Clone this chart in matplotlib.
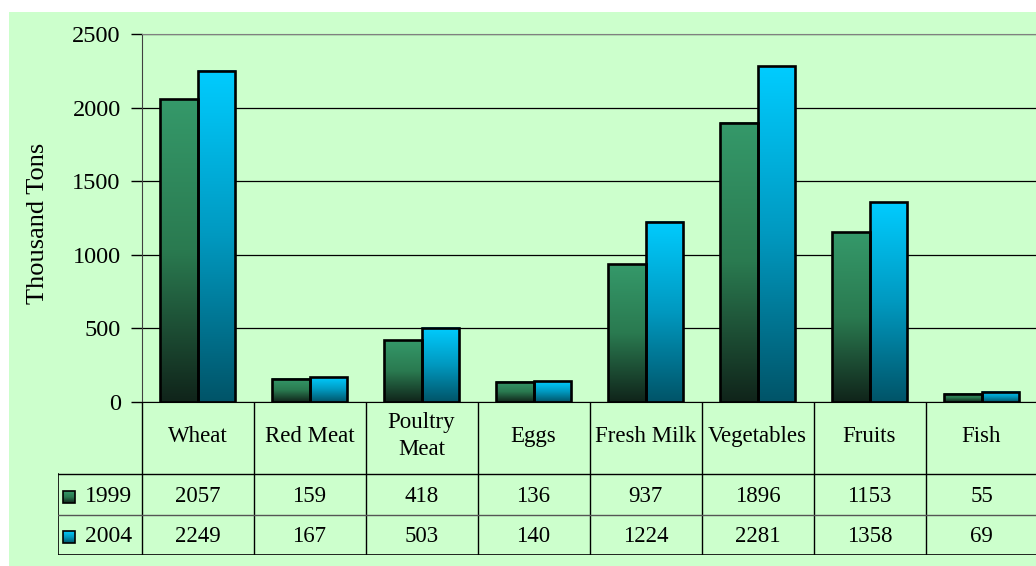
import numpy as np
import matplotlib
matplotlib.use("Agg")
import matplotlib.pyplot as plt
from matplotlib.colors import LinearSegmentedColormap
from matplotlib.patches import Rectangle

plt.rcParams['font.family'] = ['Liberation Serif', 'DejaVu Serif']

# production data (thousand tons)
categories = ['Wheat', 'Red Meat', 'Poultry\nMeat', 'Eggs', 'Fresh Milk',
              'Vegetables', 'Fruits', 'Fish']
years = ['1999', '2004']
vals_1999 = [2057, 159, 418, 136, 937, 1896, 1153, 55]
vals_2004 = [2249, 167, 503, 140, 1224, 2281, 1358, 69]
yticks = [0, 500, 1000, 1500, 2000, 2500]

W, H = 1036, 566
bg = '#ccffcc'
green = LinearSegmentedColormap.from_list('g', ['#10241a', '#2a7a50', '#35996a'])
blue = LinearSegmentedColormap.from_list('b', ['#005468', '#0099c0', '#00ccff'])
grad = np.linspace(0, 1, 256).reshape(-1, 1)

fig = plt.figure(figsize=(W / 100, H / 100), dpi=100)
fig.patch.set_facecolor('white')
fig.patches.append(Rectangle((9 / W, 0), 1, 1 - 12 / H, transform=fig.transFigure,
                             facecolor=bg, edgecolor='none', zorder=-10))

x_left = 141.5
col_w = 112
ax = fig.add_axes([x_left / W, 1 - 402 / H, 8 * col_w / W, 368 / H])
ax.set_facecolor('none')

bw = 0.335
for i in range(len(categories)):
    c = i + 0.5
    for v, x0, cmap in [(vals_1999[i], c - bw, green), (vals_2004[i], c, blue)]:
        ax.imshow(grad, extent=(x0, x0 + bw, 0, v), origin='lower', aspect='auto',
                  cmap=cmap, zorder=2, interpolation='bilinear')
        ax.add_patch(Rectangle((x0, 0), bw, v, facecolor='none', edgecolor='black',
                               lw=1.9, zorder=3))

ax.set_xlim(0, 8)
ax.set_ylim(0, 2500)
ax.set_yticks(yticks)
ax.set_xticks([])
ax.yaxis.grid(True, color='black', lw=0.9)
ax.set_axisbelow(True)
ax.tick_params(axis='y', direction='out', length=8, width=1, pad=7, labelsize=17.5)
ax.spines['top'].set_color('#808080')
ax.spines['left'].set_color('#404040')
ax.spines['right'].set_visible(False)
ax.spines['bottom'].set_color('black')

fig.text(38 / W, 1 - 223 / H, 'Thousand Tons', rotation=90, ha='center',
         va='center', fontsize=19)

# data table under the plot
tab = fig.add_axes([58 / W, 1 - 555 / H, (x_left + 8 * col_w - 58) / W, 153 / H])
tab.set_facecolor('none')
tab.axis('off')
x_tab0 = -(x_left - 58) / col_w
for k in range(9):
    tab.plot([k, k], [402, 555], color='black', lw=1)
tab.plot([x_tab0, x_tab0], [474, 555], color='black', lw=1.2)
tab.plot([x_tab0, 8], [474, 474], color='black', lw=1)
tab.plot([x_tab0, 8], [515, 515], color='#555555', lw=1)
tab.plot([x_tab0, 8], [555, 555], color='black', lw=1.2)

for i, name in enumerate(categories):
    tab.text(i + 0.5, 436, name, ha='center', va='center', fontsize=16.5,
             linespacing=1.4)
    tab.text(i + 0.5, 496, str(vals_1999[i]), ha='center', va='center', fontsize=16.5)
    tab.text(i + 0.5, 536, str(vals_2004[i]), ha='center', va='center', fontsize=16.5)

ks = 12 / col_w
for yr, yc, cmap in [(years[0], 497, green), (years[1], 537, blue)]:
    kx = x_tab0 + 5 / col_w
    tab.imshow(grad[::-1], extent=(kx, kx + ks, yc + 6, yc - 6), aspect='auto',
               cmap=cmap, zorder=2)
    tab.add_patch(Rectangle((kx, yc - 6), ks, 12, facecolor='none',
                            edgecolor='black', lw=1.2, zorder=3))
    tab.text(x_tab0 + 27 / col_w, yc - 1, yr, ha='left', va='center', fontsize=17)

tab.set_xlim(x_tab0, 8)
tab.set_ylim(555, 402)

fig.savefig('out.png', dpi=100, facecolor='white')
